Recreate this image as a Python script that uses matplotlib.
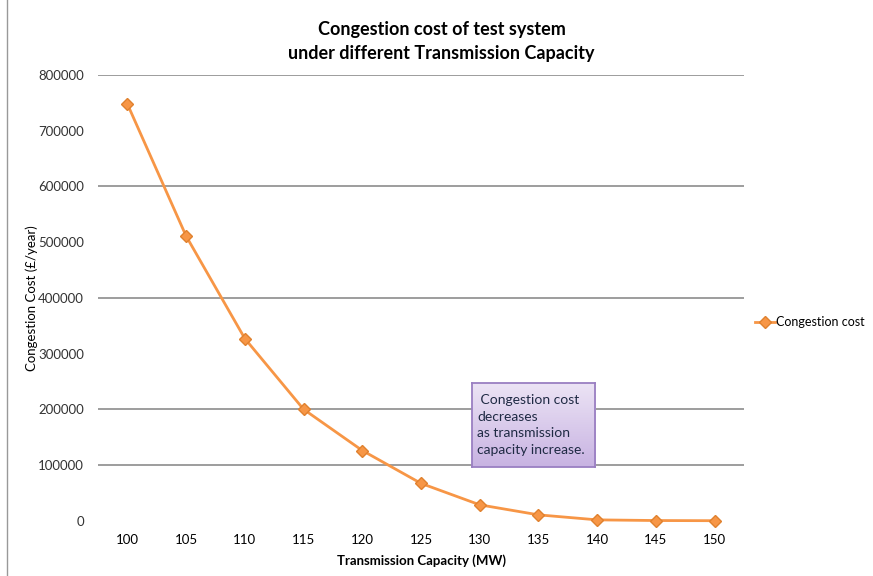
import matplotlib
matplotlib.use("Agg")
import matplotlib.pyplot as plt
import numpy as np
from matplotlib.colors import LinearSegmentedColormap
from matplotlib.lines import Line2D

plt.rcParams['font.family'] = ['Lato', 'DejaVu Sans']

# data
capacity = ['100', '105', '110', '115', '120', '125', '130', '135', '140', '145', '150']
cost = [748000, 511000, 327000, 200000, 126000, 67000, 28500, 10500, 1500, 300, 0]
y_ticks = [0, 100000, 200000, 300000, 400000, 500000, 600000, 700000, 800000]
grid_levels = [100000, 200000, 400000, 600000, 800000]

fig = plt.figure(figsize=(8.73, 5.76), dpi=100)
W, H = 873, 576
ax = fig.add_axes([98 / W, 1 - 520.7 / H, (744 - 98) / W, (520.7 - 75) / H])

x = list(range(len(capacity)))
ax.plot(x, cost, color='#F79646', linewidth=2.0, marker='D', markersize=6,
        markerfacecolor='#F79646', markeredgecolor='#E0812E', clip_on=False,
        label='Congestion cost', zorder=3)

# gridlines (only some levels visible in the original)
for g in grid_levels:
    ax.axhline(g, color='#8c8c8c', linewidth=1.2, zorder=1)

ax.set_xlim(-0.5, len(capacity) - 0.5)
ax.set_ylim(0, 800000)
ax.set_xticks(x)
ax.set_xticklabels(capacity, fontsize=9.5)
ax.set_yticks(y_ticks)
ax.set_yticklabels([str(v) for v in y_ticks], fontsize=9.5, color='#333333')
ax.tick_params(length=0)
ax.tick_params(axis='x', pad=9.5)
ax.tick_params(axis='y', pad=10)
for s in ax.spines.values():
    s.set_visible(False)

ax.set_xlabel('Transmission Capacity (MW)', fontsize=9.5, fontweight='bold', labelpad=6)
ax.set_ylabel('Congestion Cost (£/year)', fontsize=9.5, labelpad=0.5)

fig.text(442 / W, 1 - 30 / H, 'Congestion cost of test system', ha='center', va='center',
         fontsize=13, fontweight='bold')
fig.text(441 / W, 1 - 54 / H, 'under different Transmission Capacity', ha='center', va='center',
         fontsize=13, fontweight='bold')

# legend
ax.legend(loc='center left', bbox_to_anchor=(749 / W, 1 - 322 / H), bbox_transform=fig.transFigure,
          frameon=False, fontsize=9, handlelength=1.6, handletextpad=0.1, borderpad=0)

# annotation box with a light purple gradient
bax = fig.add_axes([472 / W, 1 - 467 / H, 123 / W, 84 / H], zorder=5)
grad = np.linspace(0, 1, 100).reshape(-1, 1)
cmap = LinearSegmentedColormap.from_list('box', ['#ece4f5', '#c8b3e2'])
bax.imshow(grad, aspect='auto', cmap=cmap, extent=[0, 1, 0, 1], origin='upper')
bax.set_xticks([])
bax.set_yticks([])
for s in bax.spines.values():
    s.set_color('#9a7fc2')
    s.set_linewidth(1.3)
bax.text(0.04, 0.5, ' Congestion cost\ndecreases\nas transmission\ncapacity increase.',
         transform=bax.transAxes, ha='left', va='center', fontsize=10, color='#1f2a44',
         linespacing=1.45)

# left border of the chart frame
fig.add_artist(Line2D([7 / W, 7 / W], [0, 1], color='#999999', linewidth=1.0))

fig.savefig('out.png', dpi=100)
